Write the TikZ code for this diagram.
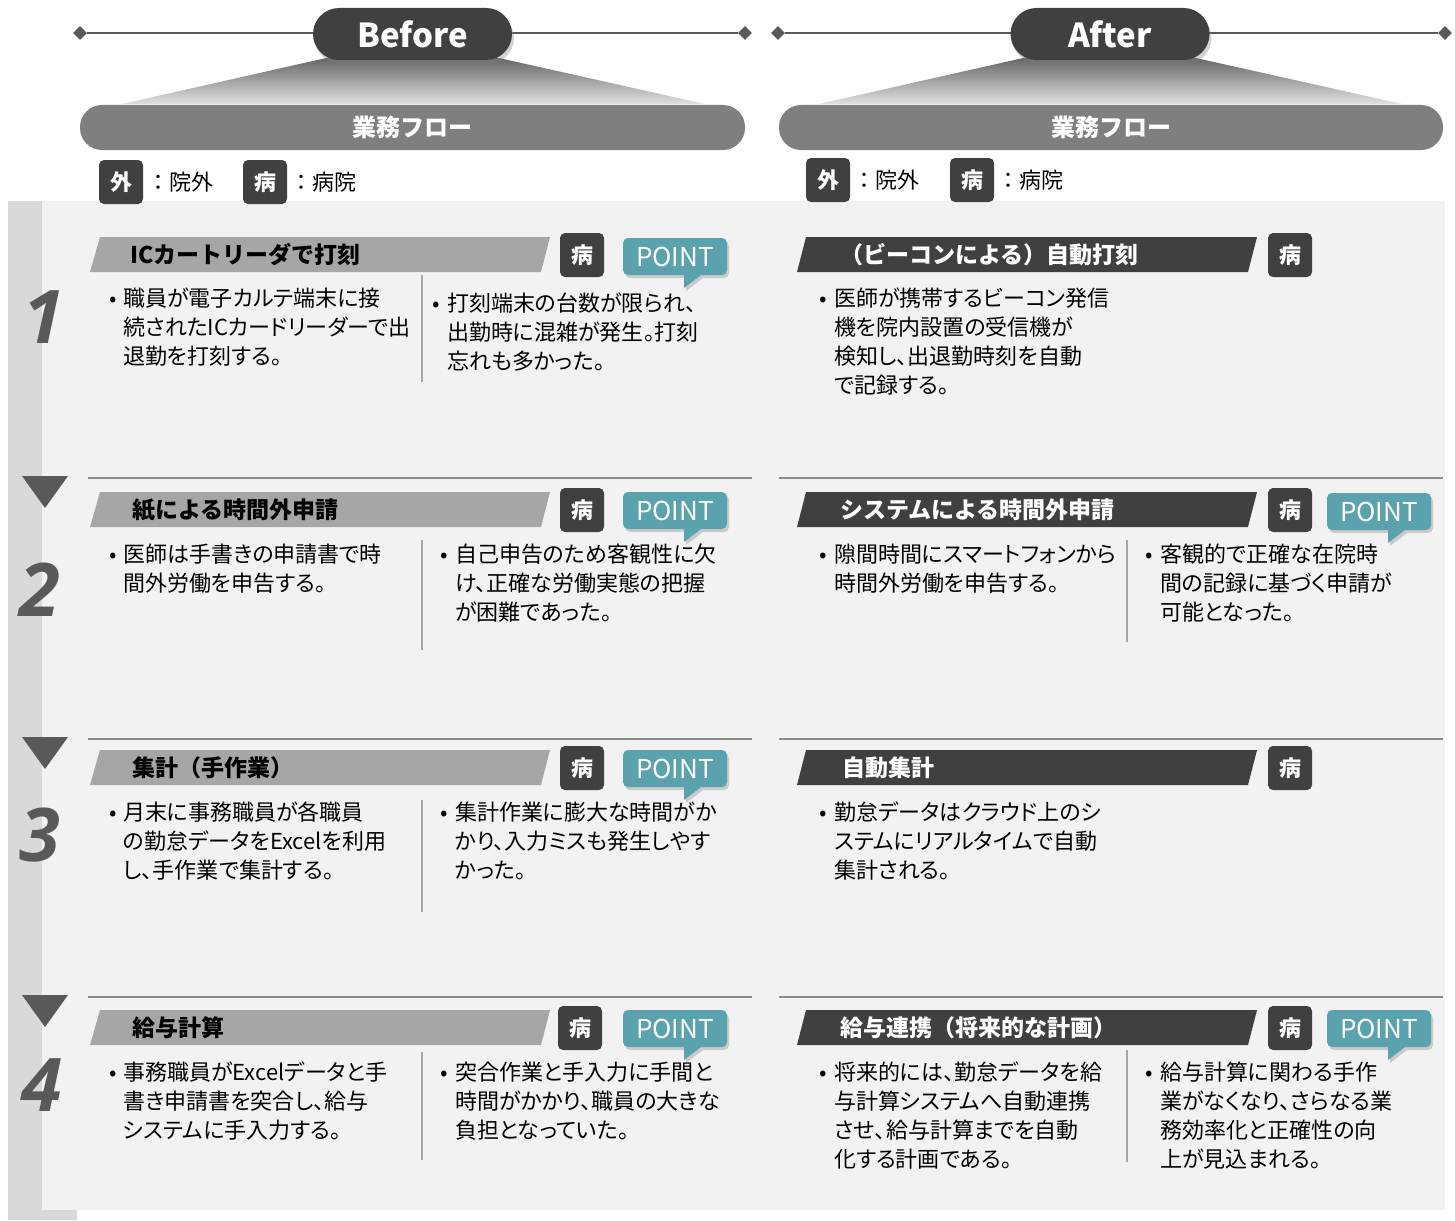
\documentclass[tikz,border=0pt]{standalone}
\usepackage{fontspec}
\setmainfont{Noto Sans CJK JP}
\newfontfamily\bodyfont{Noto Sans CJK JP}[RawFeature=+palt]
\newfontfamily\numfont{Open Sans}
\usetikzlibrary{shadows,shapes.geometric}
\definecolor{dk}{HTML}{404040}
\definecolor{barc}{HTML}{7F7F7F}
\definecolor{lbar}{HTML}{A6A6A6}
\definecolor{bgc}{HTML}{F2F2F2}
\definecolor{stripc}{HTML}{D9D9D9}
\definecolor{sepc}{HTML}{8C8C8C}
\definecolor{tealc}{HTML}{5AA2AE}
\definecolor{numc}{HTML}{595959}
\newcommand\para[1]{\vtop{\baselineskip=29pt\lineskiplimit=-100pt\lineskip=0pt\relax #1}}
\newcommand\tl[1]{\hbox{#1}}
\newcommand\pointat[3]{%
  \path[fill=tealc, drop shadow={opacity=0.35, shadow xshift=2pt, shadow yshift=-3pt}, rounded corners=5pt]
    (#2,#3) -- (#2+104,#3) -- (#2+104,#3+37) [sharp corners] -- (#2+78,#3+37) -- (#2+61,#3+50) -- (#2+61,#3+37) [rounded corners=5pt] -- (#2,#3+37) -- cycle;
  \node[pointtxt] (#1) at (#2+52,#3+18.5) {POINT};}
\begin{document}
\begin{tikzpicture}[x=1pt,y=-1pt,
  badge/.style={fill=dk, rounded corners=5pt, minimum width=44pt, minimum height=44pt, inner sep=0pt, text=white, font=\bfseries\fontsize{22}{22}\selectfont},
  pointtxt/.style={inner sep=0pt, text=white, font=\fontsize{26}{26}\selectfont},
  body/.style={anchor=base west, inner sep=0pt, font=\bodyfont\fontsize{22}{29}\selectfont},
  bullet/.style={anchor=base, inner sep=0pt, font=\bodyfont\fontsize{22}{29}\selectfont},
  btitle/.style={anchor=west, inner sep=0pt, font=\bfseries\fontsize{23}{23}\selectfont, text=black},
  atitle/.style={anchor=west, inner sep=0pt, font=\bfseries\fontsize{23}{23}\selectfont, text=white},
  pill/.style={fill=dk, rounded corners=26pt, minimum width=199pt, minimum height=52pt, text=white, font=\bfseries\fontsize{33}{33}\selectfont, drop shadow={opacity=0.35, shadow xshift=2pt, shadow yshift=-4pt}},
  flowbar/.style={fill=barc, rounded corners=22pt, minimum width=665pt, minimum height=45pt, text=white, font=\bfseries\fontsize{24}{24}\selectfont},
  dia/.style={diamond, fill=numc, minimum size=14pt, inner sep=0pt},
  legtxt/.style={anchor=west, inner sep=0pt, font=\fontsize{22}{22}\selectfont},
  sepline/.style={draw=sepc, line width=2.5pt},
  divline/.style={draw=lbar, line width=1.5pt},
  numtxt/.style={inner sep=0pt, text=numc, font=\numfont\bfseries\itshape\fontsize{74}{74}\selectfont},
]
\useasboundingbox (0,0) rectangle (1455,1220);
\fill[white] (0,0) rectangle (1455,1220);

% ---------- background ----------
\fill[bgc] (42,201) rectangle (1445,1210);
\fill[stripc] (8,201) rectangle (42,1220);
\fill[stripc] (8,1210) rectangle (77,1220);

% ---------- header ----------
\node[dia] (bl) at (80,33) {};
\node[dia] (br) at (745,33) {};
\draw[numc, line width=2.5pt] (bl) -- (br);
\node[dia] (al) at (778,33) {};
\node[dia] (ar) at (1445,33) {};
\draw[numc, line width=2.5pt] (al) -- (ar);

\shade[top color=numc!95, bottom color=white!88!black] (335,56) -- (490,56) -- (705,104) -- (122,104) -- cycle;
\shade[top color=numc!95, bottom color=white!88!black] (1032,56) -- (1187,56) -- (1402,104) -- (819,104) -- cycle;

\node[pill] (before) at (412.5,34) {Before};
\node[pill] (after) at (1110,34) {After};

\node[flowbar] (flowb) at (412.5,127.5) {業務フロー};
\node[flowbar, minimum width=664pt] (flowa) at (1111,127.5) {業務フロー};

% legend
\node[badge] (lgb1) at (121,182) {外};
\node[legtxt] (lgb1t) at (147,182) {：院外};
\node[badge] (lgb2) at (265,182) {病};
\node[legtxt] (lgb2t) at (290,182) {：病院};
\node[badge] (lga1) at (828,180) {外};
\node[legtxt] (lga1t) at (853,180) {：院外};
\node[badge] (lga2) at (972,180) {病};
\node[legtxt] (lga2t) at (997,180) {：病院};

% separators and arrows
\foreach \y in {478,739,997}{
  \draw[sepline] (88,\y) -- (752,\y);
  \draw[sepline] (779,\y) -- (1443,\y);
  \fill[numc] (22,\y-2) -- (68,\y-2) -- (45,\y+30) -- cycle;
}

% numbers
\node[numtxt] (n1) at (44,317) {1};
\node[numtxt] (n2) at (40,590) {2};
\node[numtxt] (n3) at (40,835) {3};
\node[numtxt] (n4) at (42,1085) {4};

% ---------- title bars ----------
\foreach \t in {237,492,750,1010}{
  \fill[lbar] (100,\t) -- (550,\t) -- (541,\t+35) -- (90,\t+35) -- cycle;
  \fill[dk] (806,\t) -- (1257,\t) -- (1248,\t+35) -- (797,\t+35) -- cycle;
}
\node[btitle] (bt1) at (130,255) {ICカートリーダで打刻};
\node[btitle] (bt2) at (132,510) {紙による時間外申請};
\node[btitle] (bt3) at (132,768) {集計（手作業）};
\node[btitle] (bt4) at (132,1028) {給与計算};
\node[atitle] (at1) at (840,255) {（ビーコンによる）自動打刻};
\node[atitle] (at2) at (840,510) {システムによる時間外申請};
\node[atitle] (at3) at (842,768) {自動集計};
\node[atitle] (at4) at (840,1028) {給与連携（将来的な計画）};

% badges
\node[badge] (bb1) at (582,255) {病};
\node[badge] (bb2) at (582,510) {病};
\node[badge] (bb3) at (582,768) {病};
\node[badge] (bb4) at (580,1028) {病};
\node[badge] (ab1) at (1290,255) {病};
\node[badge] (ab2) at (1290,510) {病};
\node[badge] (ab3) at (1290,768) {病};
\node[badge] (ab4) at (1290,1028) {病};

% POINT callouts
\pointat{pb1}{623}{238}
\pointat{pb2}{623}{492}
\pointat{pb3}{623}{750}
\pointat{pb4}{623}{1010}
\pointat{pa2}{1327}{493}
\pointat{pa4}{1327}{1010}

% dividers
\draw[divline] (422,275) -- (422,382);
\draw[divline] (422,540) -- (422,650);
\draw[divline] (422,800) -- (422,912);
\draw[divline] (422,1052) -- (422,1160);
\draw[divline] (1127,540) -- (1127,642);
\draw[divline] (1127,1050) -- (1127,1162);

% ---------- body texts ----------
% row 1
\node[bullet] (r1lb) at (113,306) {•};
\node[body] (r1l) at (123,306) {\para{\tl{職員が電子カルテ端末に接}\tl{続されたICカードリーダーで出}\tl{退勤を打刻する。}}};
\node[bullet] (r1rb) at (436,311) {•};
\node[body] (r1r) at (447,311) {\para{\tl{打刻端末の台数が限られ、}\tl{出勤時に混雑が発生。打刻}\tl{忘れも多かった。}}};
\node[bullet] (r1ab) at (823,306) {•};
\node[body] (r1a) at (834,306) {\para{\tl{医師が携帯するビーコン発信}\tl{機を院内設置の受信機が}\tl{検知し、出退勤時刻を自動}\tl{で記録する。}}};
% row 2
\node[bullet] (r2lb) at (113,562) {•};
\node[body] (r2l) at (123,562) {\para{\tl{医師は手書きの申請書で時}\tl{間外労働を申告する。}}};
\node[bullet] (r2rb) at (444,562) {•};
\node[body] (r2r) at (455,562) {\para{\tl{自己申告のため客観性に欠}\tl{け、正確な労働実態の把握}\tl{が困難であった。}}};
\node[bullet] (r2ab) at (823,562) {•};
\node[body] (r2a) at (834,562) {\para{\tl{隙間時間にスマートフォンから}\tl{時間外労働を申告する。}}};
\node[bullet] (r2arb) at (1149,562) {•};
\node[body] (r2ar) at (1160,562) {\para{\tl{客観的で正確な在院時}\tl{間の記録に基づく申請が}\tl{可能となった。}}};
% row 3
\node[bullet] (r3lb) at (113,820) {•};
\node[body] (r3l) at (123,820) {\para{\tl{月末に事務職員が各職員}\tl{の勤怠データをExcelを利用}\tl{し、手作業で集計する。}}};
\node[bullet] (r3rb) at (444,820) {•};
\node[body] (r3r) at (455,820) {\para{\tl{集計作業に膨大な時間がか}\tl{かり、入力ミスも発生しやす}\tl{かった。}}};
\node[bullet] (r3ab) at (823,820) {•};
\node[body] (r3a) at (834,820) {\para{\tl{勤怠データはクラウド上のシ}\tl{ステムにリアルタイムで自動}\tl{集計される。}}};
% row 4
\node[bullet] (r4lb) at (113,1080) {•};
\node[body] (r4l) at (123,1080) {\para{\tl{事務職員がExcelデータと手}\tl{書き申請書を突合し、給与}\tl{システムに手入力する。}}};
\node[bullet] (r4rb) at (444,1080) {•};
\node[body] (r4r) at (455,1080) {\para{\tl{突合作業と手入力に手間と}\tl{時間がかかり、職員の大きな}\tl{負担となっていた。}}};
\node[bullet] (r4ab) at (823,1080) {•};
\node[body] (r4a) at (834,1080) {\para{\tl{将来的には、勤怠データを給}\tl{与計算システムへ自動連携}\tl{させ、給与計算までを自動}\tl{化する計画である。}}};
\node[bullet] (r4arb) at (1149,1080) {•};
\node[body] (r4ar) at (1160,1080) {\para{\tl{給与計算に関わる手作}\tl{業がなくなり、さらなる業}\tl{務効率化と正確性の向}\tl{上が見込まれる。}}};
\end{tikzpicture}
\end{document}
